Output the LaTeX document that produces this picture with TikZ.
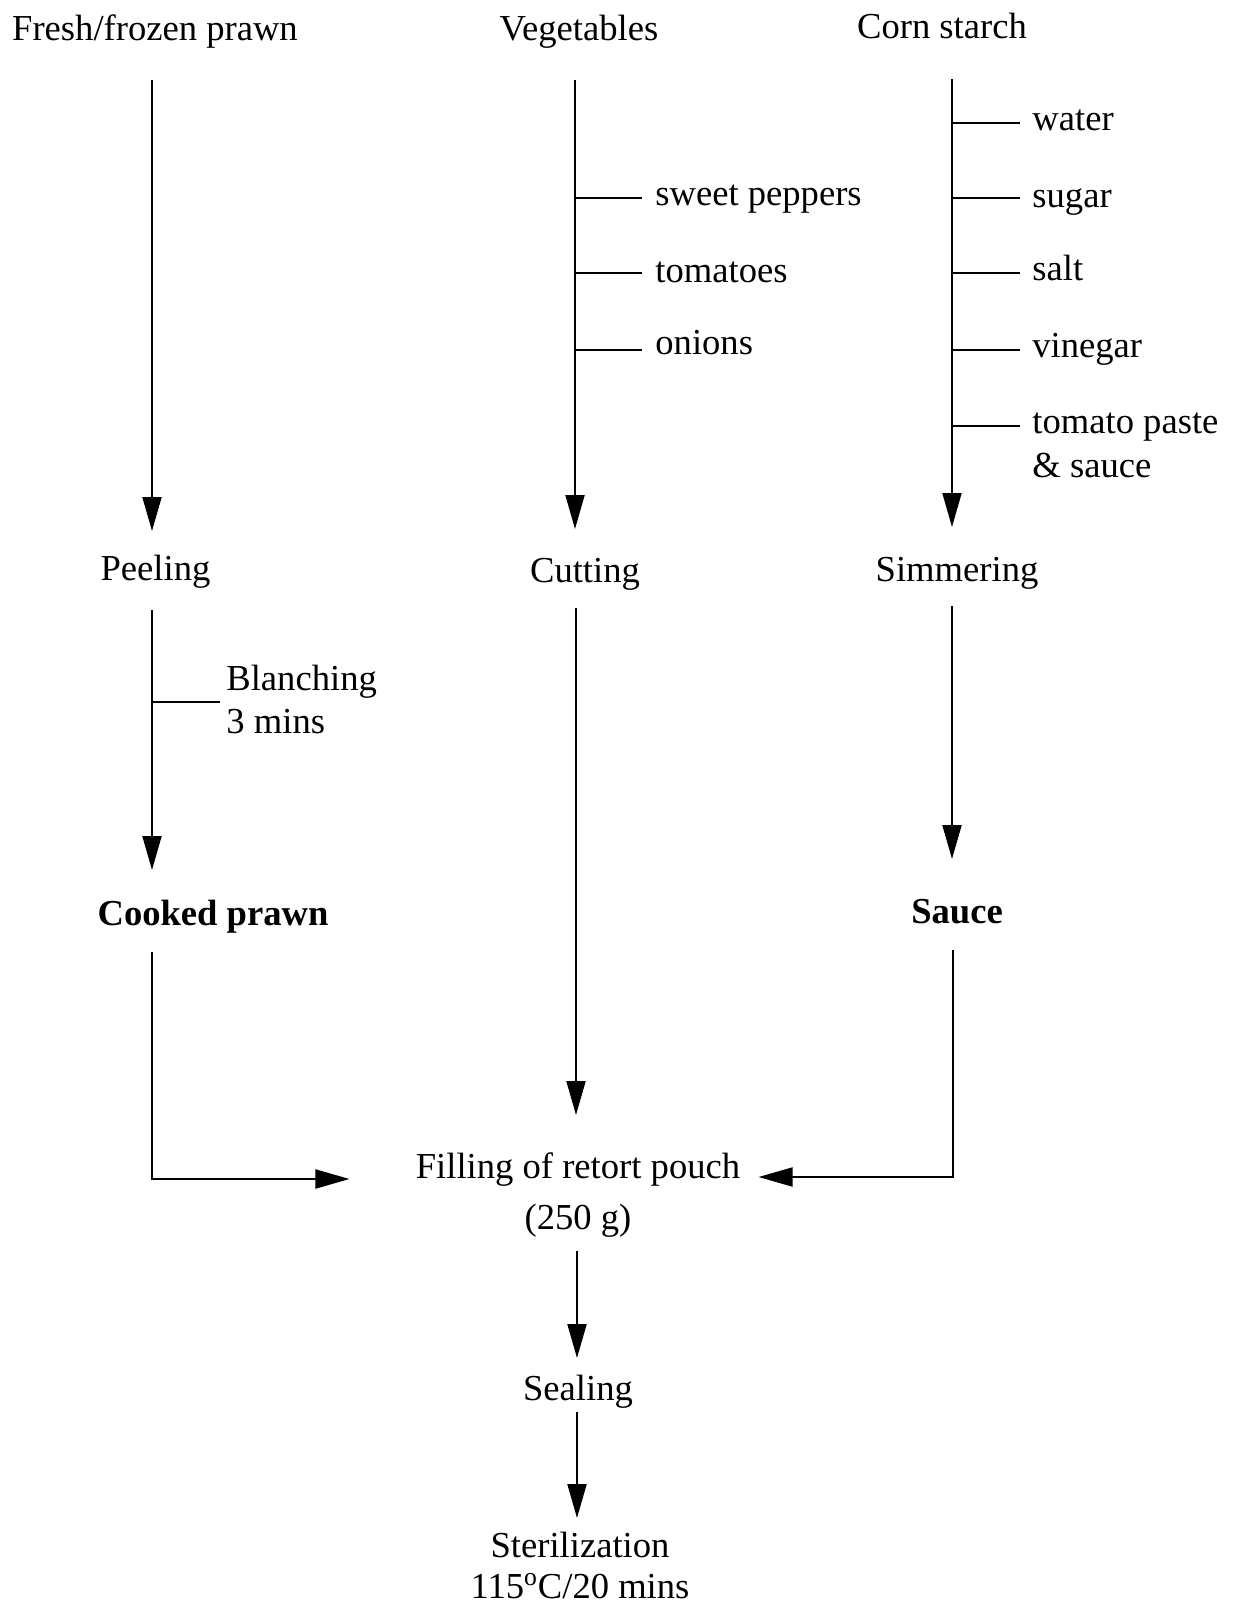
\documentclass[tikz,border=0pt]{standalone}
\usepackage{fontspec}
\setmainfont{Liberation Serif}
\usetikzlibrary{arrows.meta,calc}

\begin{document}
\begin{tikzpicture}[x=0.5pt,y=-0.5pt,
  lbl/.style={inner sep=0pt, font=\fontsize{18.3}{22}\selectfont},
  stage/.style={lbl, anchor=base},
  addin/.style={lbl, anchor=base west},
  product/.style={stage, font=\fontsize{18.3}{22}\selectfont\bfseries},
  flow/.style={line width=1pt, -{Triangle[length=17pt,width=9.5pt]}},
  feed/.style={line width=1pt}]
\useasboundingbox[fill=white] (0,0) rectangle (1235,1606);

% column axes
\coordinate (cA) at (152,0);
\coordinate (cB) at (575,0);
\coordinate (cC) at (952,0);
\coordinate (cD) at (577,0);

% raw materials
\node[stage] (prawn) at (155,40) {Fresh/frozen prawn};
\node[stage] (veg)   at (579,40) {Vegetables};
\node[stage] (corn)  at (942,39) {Corn starch};

% process steps
\node[stage] (peel)  at (155.5,580) {Peeling};
\node[stage] (cut)   at (585,582) {Cutting};
\node[stage] (simm)  at (957,581) {Simmering};
\node[product] (cooked) at (213,925) {Cooked prawn};
\node[product] (sauce)  at (957,923) {Sauce};
\node[stage] (fill)  at (578,1178) {Filling of retort pouch};
\node[stage] (fillw) at (578,1229) {(250 g)};
\node[stage] (seal)  at (578,1400) {Sealing};
\node[stage] (ster)  at (580,1557) {Sterilization};
\node[stage] (sterT) at (580,1598) {115\textsuperscript{o}C/20 mins};

% additions
\node[addin] (blanch)  at (226,690) {Blanching};
\node[addin] (blanchT) at (226,733) {3 mins};
\node[addin] (sp)   at (655,205) {sweet peppers};
\node[addin] (tom)  at (655,282) {tomatoes};
\node[addin] (oni)  at (655,354) {onions};
\node[addin] (wat)  at (1032,130) {water};
\node[addin] (sug)  at (1032,207) {sugar};
\node[addin] (salt) at (1032,280) {salt};
\node[addin] (vin)  at (1032,357) {vinegar};
\node[addin] (tp)   at (1032,433) {tomato paste};
\node[addin] (tpS)  at (1032,477) {\& sauce};

% prawn line
\draw[flow] ($(cA|-prawn.base)+(0,40)$) -- ($(cA|-peel.base)+(0,-49)$);
\draw[flow] ($(cA|-peel.base)+(0,30)$) -- ($(cA|-cooked.base)+(0,-55)$);
\draw[feed] ($(cA|-blanch.base)+(0,12)$) -- ($(blanch.base west)+(-6,12)$);
\draw[flow] ($(cA|-cooked.base)+(0,27)$) |- ($(fill.base west)+(-66,1)$);

% vegetable line
\draw[flow] ($(cB|-veg.base)+(0,40)$) -- ($(cB|-cut.base)+(0,-53)$);
\draw[feed] ($(cB|-sp.base)+(0,-7)$)  -- ($(sp.base west)+(-13,-7)$);
\draw[feed] ($(cB|-tom.base)+(0,-9)$) -- ($(tom.base west)+(-13,-9)$);
\draw[feed] ($(cB|-oni.base)+(0,-4)$) -- ($(oni.base west)+(-13,-4)$);
\draw[flow] ($(cB|-cut.base)+(1,26)$) -- ($(cB|-fill.base)+(1,-63)$);

% sauce line
\draw[flow] ($(cC|-corn.base)+(0,40)$) -- ($(cC|-simm.base)+(0,-54)$);
\draw[feed] ($(cC|-wat.base)+(0,-7)$)  -- ($(wat.base west)+(-12,-7)$);
\draw[feed] ($(cC|-sug.base)+(0,-9)$)  -- ($(sug.base west)+(-12,-9)$);
\draw[feed] ($(cC|-salt.base)+(0,-7)$) -- ($(salt.base west)+(-12,-7)$);
\draw[feed] ($(cC|-vin.base)+(0,-7)$)  -- ($(vin.base west)+(-12,-7)$);
\draw[feed] ($(cC|-tp.base)+(0,-7)$)   -- ($(tp.base west)+(-12,-7)$);
\draw[flow] ($(cC|-simm.base)+(0,25)$) -- ($(cC|-sauce.base)+(0,-64)$);
\draw[flow] ($(cC|-sauce.base)+(1,27)$) |- ($(fill.base east)+(18,-1)$);

% packaging
\draw[flow] ($(cD|-fillw.base)+(0,22)$) -- ($(cD|-seal.base)+(0,-42)$);
\draw[flow] ($(cD|-seal.base)+(0,12)$) -- ($(cD|-ster.base)+(0,-39)$);
\end{tikzpicture}
\end{document}
